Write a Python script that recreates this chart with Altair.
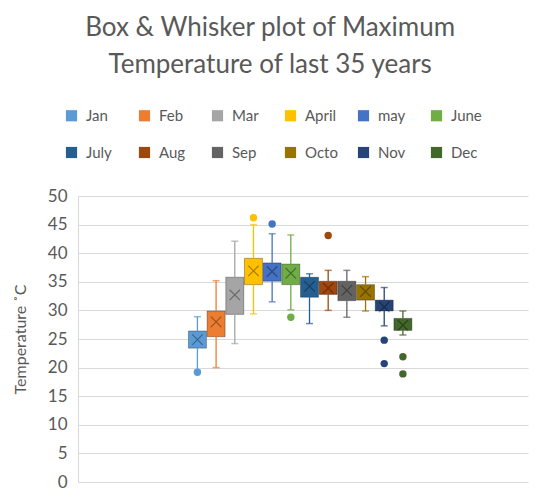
import altair as alt
import pandas as pd

months = ["Jan", "Feb", "Mar", "April", "may", "June",
          "July", "Aug", "Sep", "Octo", "Nov", "Dec"]
whisker_low = [19.5, 20.0, 24.2, 29.4, 31.5, 30.1, 27.7, 30.0, 28.8, 29.9, 27.3, 25.7]
q1 = [23.4, 25.4, 29.3, 34.5, 35.1, 34.5, 32.3, 32.8, 31.7, 31.8, 29.9, 26.5]
q3 = [26.4, 29.9, 35.8, 39.1, 38.3, 38.1, 35.8, 35.1, 35.1, 34.5, 31.8, 28.6]
whisker_high = [28.9, 35.2, 42.1, 45.0, 43.4, 43.2, 36.4, 37.0, 37.0, 35.9, 34.0, 29.9]
mean = [24.9, 28.0, 32.7, 36.9, 36.8, 36.5, 34.2, 33.9, 33.5, 33.3, 30.6, 27.4]
outlier_month = ["Jan", "April", "may", "June", "Aug", "Nov", "Nov", "Dec", "Dec"]
outlier_value = [19.2, 46.2, 45.1, 28.8, 43.1, 24.8, 20.7, 21.9, 18.9]
y_ticks = [0, 5, 10, 15, 20, 25, 30, 35, 40, 45, 50]

colors = ["#5B9BD5", "#ED7D31", "#A5A5A5", "#FFC000", "#4472C4", "#70AD47",
          "#255E91", "#9E480E", "#636363", "#997300", "#264478", "#43682B"]

box_df = pd.DataFrame({
    "month": months, "idx": [months.index(m) for m in months],
    "wlow": whisker_low, "q1": q1, "q3": q3, "whigh": whisker_high, "mean": mean,
})
out_df = pd.DataFrame({"month": outlier_month,
                       "idx": [months.index(m) for m in outlier_month],
                       "value": outlier_value})

FONT = "Lato"
TXT = "#595959"

xscale = alt.Scale(domain=[-6.126, 17.43], nice=False, zero=False)
x = alt.X("idx:Q", scale=xscale, axis=None)
cscale = alt.Scale(domain=months, range=colors)
yscale = alt.Scale(domain=[0, 50], nice=False)
yaxis = alt.Axis(values=y_ticks, title="Temperature ˚C", grid=True,
                 gridColor="#D9D9D9", domainColor="#D9D9D9", ticks=False,
                 labelOverlap=False,
                 labelPadding=11, labelFontSize=17, labelColor=TXT,
                 labelFont=FONT, titleFont=FONT, titleFontSize=16,
                 titleColor=TXT, titleFontWeight="normal", titlePadding=19)
legend = alt.Legend(title=None, orient="none", legendX=-14, legendY=-88,
                    direction="horizontal", columns=6,
                    symbolType="square", symbolSize=125,
                    symbolStrokeWidth=0, symbolOpacity=1,
                    gridAlign="all",
                    columnPadding=18, rowPadding=21,
                    labelFont=FONT, labelFontSize=15, labelColor=TXT,
                    labelOffset=7)
col = alt.Color("month:N", scale=cscale, sort=months, legend=legend)


def Y(field):
    return alt.Y(field, type="quantitative", scale=yscale, axis=yaxis, title="Temperature ˚C")


base = alt.Chart(box_df)

box = base.mark_bar(size=18, stroke="black", strokeOpacity=0.3, strokeWidth=1).encode(
    x=x, y=Y("q1"), y2="q3:Q", color=col,
)

whisk_lo = base.mark_rule(strokeWidth=1.3).encode(
    x=x, y=Y("wlow"), y2="q1:Q", color=col,
)
whisk_hi = base.mark_rule(strokeWidth=1.3).encode(
    x=x, y=Y("q3"), y2="whigh:Q", color=col,
)
cap_hi = base.mark_tick(size=7, thickness=1.5, orient="horizontal").encode(
    x=x, y=Y("whigh"), color=col,
)
cap_lo = base.mark_tick(size=7, thickness=1.5, orient="horizontal").encode(
    x=x, y=Y("wlow"), color=col,
)

xshape = "M-1,-1L1,1M-1,1L1,-1"
mean_pt = base.mark_point(shape=xshape, size=110, filled=False, strokeWidth=1.2,
                          color="black", opacity=0.35).encode(
    x=x, y=Y("mean"),
)

outl = alt.Chart(out_df).mark_circle(size=55, opacity=1).encode(
    x=x, y=Y("value"), color=col,
)

chart = alt.layer(box, whisk_lo, whisk_hi, cap_hi, cap_lo, mean_pt, outl).properties(
    width=450, height=286,
    title=alt.TitleParams(
        text=["Box & Whisker plot of Maximum", "Temperature of last 35 years"],
        font=FONT, fontSize=26, fontWeight="normal", color=TXT,
        anchor="middle", frame="bounds", lineHeight=37, baseline="top", offset=30),
    autosize=alt.AutoSizeParams(type="none"),
    padding={"left": 70, "top": 188, "right": 2, "bottom": 8},
).configure_view(stroke=None)

chart.save("out.html", embed_options={"renderer": "svg", "actions": False})
